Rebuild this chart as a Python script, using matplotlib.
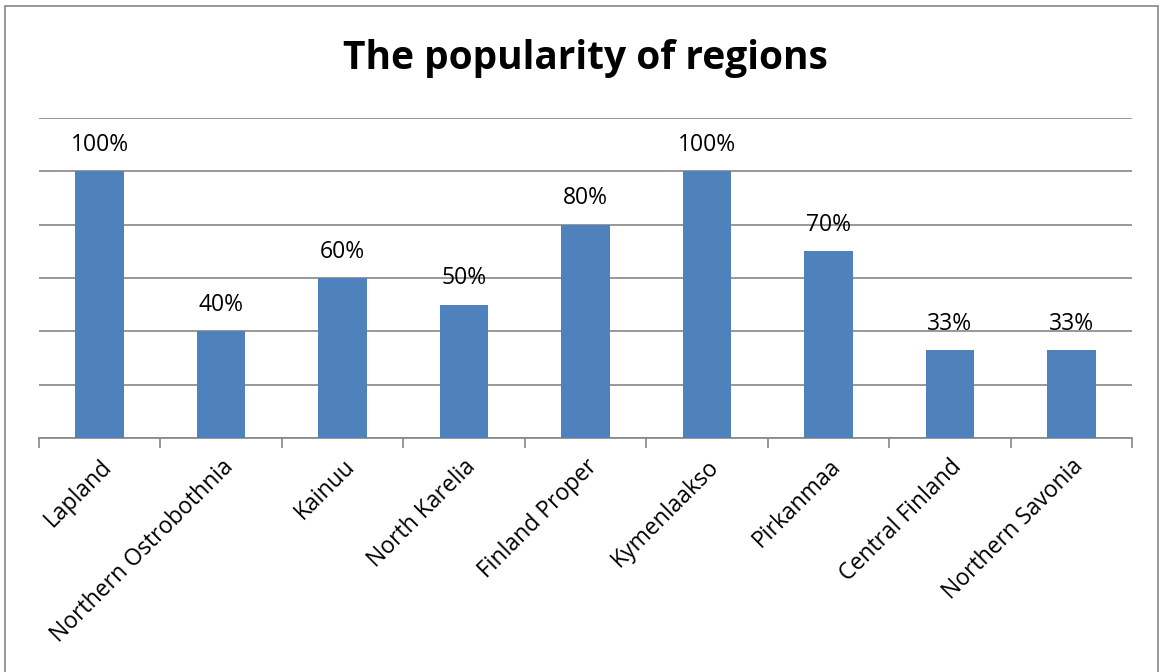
import matplotlib.pyplot as plt
from matplotlib.patches import Rectangle
import numpy as np

plt.rcParams['font.family'] = ['Open Sans', 'DejaVu Sans']

regions = ['Lapland', 'Northern Ostrobothnia', 'Kainuu', 'North Karelia', 'Finland Proper',
           'Kymenlaakso', 'Pirkanmaa', 'Central Finland', 'Northern Savonia']
heights = [5, 2, 3, 2.5, 4, 5, 3.5, 1.65, 1.65]
labels = ['100%', '40%', '60%', '50%', '80%', '100%', '70%', '33%', '33%']

W, H = 1165, 672
fig = plt.figure(figsize=(W / 100, H / 100), dpi=100)
ax = fig.add_axes([39 / W, 1 - 438 / H, (1132 - 39) / W, (438 - 118) / H])

x = np.arange(len(regions))
ax.bar(x, heights, width=0.4, color='#4F81BD', zorder=3)
for xi, h, lab in zip(x, heights, labels):
    ax.annotate(lab, (xi, h), xytext=(0, 19), textcoords='offset points',
                ha='center', va='center', fontsize=16.5, color='black')

ax.set_xlim(-0.5, len(regions) - 0.5)
ax.set_ylim(0, 6)
ax.set_yticks(np.arange(0, 7))
ax.yaxis.grid(True, color='#868686', linewidth=1.2, zorder=0)
ax.tick_params(axis='y', left=False, labelleft=False)

ax.set_xticks(x)
ax.set_xticklabels(regions, rotation=45, ha='right', rotation_mode='anchor', fontsize=16.5)
ax.tick_params(axis='x', which='major', length=0, pad=12)
ax.set_xticks(np.arange(-0.5, len(regions)), minor=True)
ax.tick_params(axis='x', which='minor', length=7, width=1.2, color='#868686', direction='out')

for s in ['left', 'right', 'top']:
    ax.spines[s].set_visible(False)
ax.spines['bottom'].set_color('#868686')
ax.spines['bottom'].set_linewidth(1.2)

fig.text(585 / W, 1 - 58 / H, 'The popularity of regions', ha='center', va='center',
         fontsize=28, fontweight='bold')

fig.patches.append(Rectangle((5 / W, -0.05), (1158 - 5) / W, 1.05 - 6 / H,
                             transform=fig.transFigure, fill=False,
                             edgecolor='#868686', linewidth=1.2))

fig.savefig('out.png', dpi=100)
